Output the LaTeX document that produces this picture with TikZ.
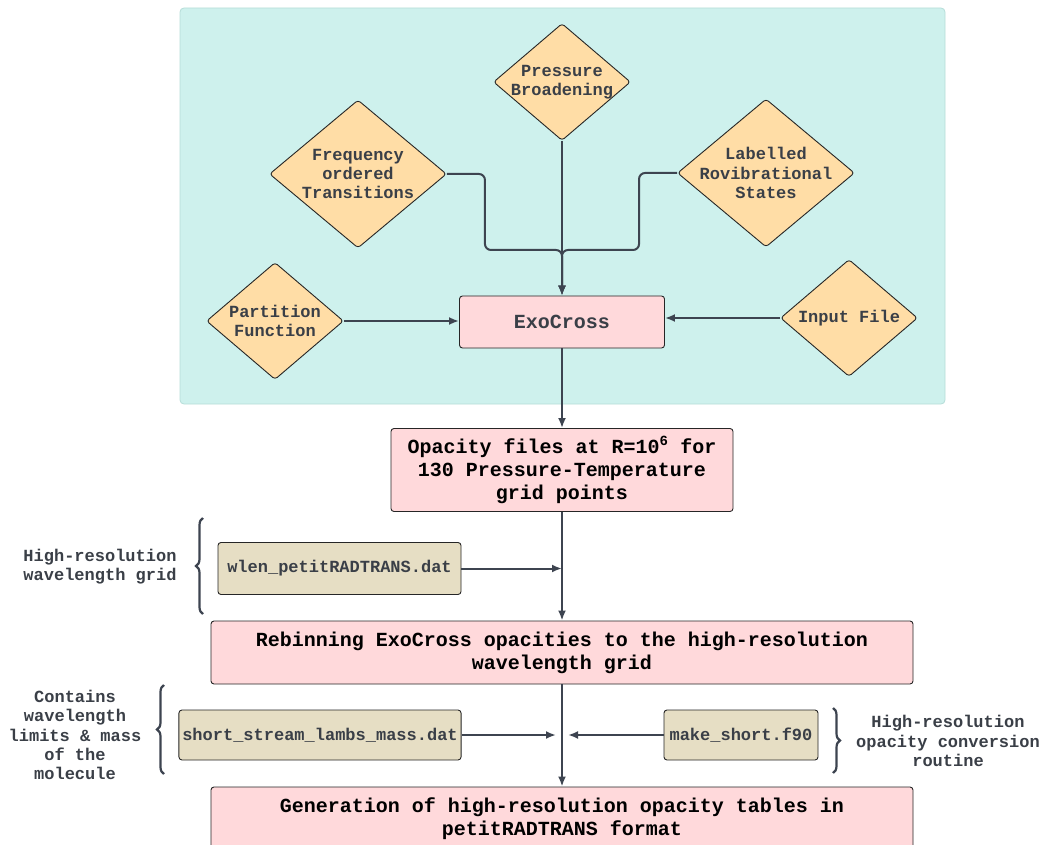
\documentclass[tikz,border=0pt]{standalone}
\usepackage{fontspec}
\setmonofont{Liberation Mono}
\usetikzlibrary{arrows.meta,positioning,shapes.geometric,decorations.pathreplacing,calc}
\definecolor{panelteal}{HTML}{CEF1ED}
\definecolor{paneledge}{HTML}{B5DDD8}
\definecolor{inputpeach}{HTML}{FFDDA6}
\definecolor{stagepink}{HTML}{FFD9DB}
\definecolor{filebeige}{HTML}{E6DEC4}
\definecolor{textdark}{HTML}{3A3F47}
\definecolor{linegray}{HTML}{3D4450}
\newcommand{\smallmono}{\ttfamily\bfseries\fontsize{17}{19.3}\selectfont}
\newcommand{\bigmono}{\ttfamily\bfseries\fontsize{20}{23}\selectfont}
\tikzset{
  >=Latex,
  diatext/.style={font=\smallmono, text=textdark, align=center},
  smalldia/.style={
    diamond, draw=black!85, line width=0.9pt, fill=inputpeach,
    rounded corners=3pt, inner sep=0pt,
    minimum width=137pt, minimum height=117pt
  },
  bigdia/.style={
    diamond, draw=black!85, line width=0.9pt, fill=inputpeach,
    rounded corners=3pt, inner sep=0pt,
    minimum width=177pt, minimum height=148pt
  },
  process/.style={
    rectangle, rounded corners=3pt, draw=black!85, line width=0.9pt,
    fill=stagepink, align=center, font=\bigmono, text=black
  },
  filebox/.style={
    rectangle, rounded corners=3pt, draw=black!85, line width=0.9pt,
    fill=filebeige, align=center, font=\smallmono, text=textdark,
    minimum height=52pt
  },
  wire/.style={-{Latex[length=10pt,width=8pt]}, line width=2pt, draw=linegray},
  bracket/.style={decorate, decoration={brace, amplitude=7pt}, line width=2.2pt, draw=linegray},
  sidenote/.style={font=\smallmono, text=textdark, align=center}
}

\begin{document}
\begin{tikzpicture}[x=1pt, y=-1pt]
\useasboundingbox (0,0) rectangle (1042,845);
% ExoCross inputs panel
\fill[panelteal, draw=paneledge, line width=0.8pt, rounded corners=4pt] (180,8) rectangle (945,404);
\node[smalldia, label={[diatext]center:Pressure\\Broadening}] (press) at (562,82) {};
\node[bigdia, label={[diatext]center:Frequency\\ordered\\Transitions}] (freq) at (358,174) {};
\node[bigdia, label={[diatext]center:Labelled\\Rovibrational\\States}] (states) at (766,173) {};
\node[smalldia, label={[diatext]center:Partition\\Function}] (pfunc) at (275,321) {};
\node[smalldia, label={[diatext]center:Input File}] (infile) at (849,318) {};
\node[process, text=textdark, minimum width=205pt, minimum height=52pt] (exo) at (562,322) {ExoCross};
\coordinate (merge) at (562,250);
\draw[wire, rounded corners=6pt] (freq.east) -- ++(38,0) |- (merge) -- (exo.north);
\draw[wire, rounded corners=6pt] (states.west) -- ++(-38,0) |- (merge) -- (exo.north);
\draw[wire] (press.south) -- (exo.north);
\draw[wire] (pfunc.east) -- (exo.west |- pfunc.east);
\draw[wire] (infile.west) -- (exo.east |- infile.west);
% opacity pipeline
\node[process, minimum width=342pt, minimum height=83pt] (opac) at (562,470) {Opacity files at R=10\textsuperscript{6} for\\130 Pressure-Temperature\\grid points};
\node[process, minimum width=702pt, minimum height=63pt] (rebin) at (562,652.5) {Rebinning ExoCross opacities to the high-resolution\\wavelength grid};
\node[process, minimum width=702pt, minimum height=63pt] (gen) at (562,818.5) {Generation of high-resolution opacity tables in\\petitRADTRANS format};
\node[filebox, minimum width=243pt] (wlen) at (339.5,568.5) {wlen\_petitRADTRANS.dat};
\node[filebox, minimum width=282pt, minimum height=50pt] (lambs) at (320,735) {short\_stream\_lambs\_mass.dat};
\node[filebox, minimum width=154pt, minimum height=50pt] (mkshort) at (741,735) {make\_short.f90};
\coordinate (wlenin) at (562,568.5);
\coordinate (lambsin) at (556,735);
\coordinate (mkin) at (568,735);
\draw[wire] (exo.south) -- (opac.north);
\draw[wire] (opac.south) -- (rebin.north);
\draw[wire] (rebin.south) -- (gen.north);
\draw[wire] (wlen.east) -- (wlenin);
\draw[wire] (lambs.east) -- (lambsin);
\draw[wire] (mkshort.west) -- (mkin);
% side notes
\draw[bracket] (203,614) -- (203,518);
\node[sidenote] (wlennote) at (100,566.5) {High-resolution\\wavelength grid};
\draw[bracket] (164,774) -- (164,685);
\node[sidenote] (lambsnote) at (75,735) {Contains\\wavelength\\limits \& mass\\of the\\molecule};
\draw[bracket] (833,708) -- (833,773);
\node[sidenote] (mknote) at (948,741) {High-resolution\\opacity conversion\\routine};
\end{tikzpicture}
\end{document}
